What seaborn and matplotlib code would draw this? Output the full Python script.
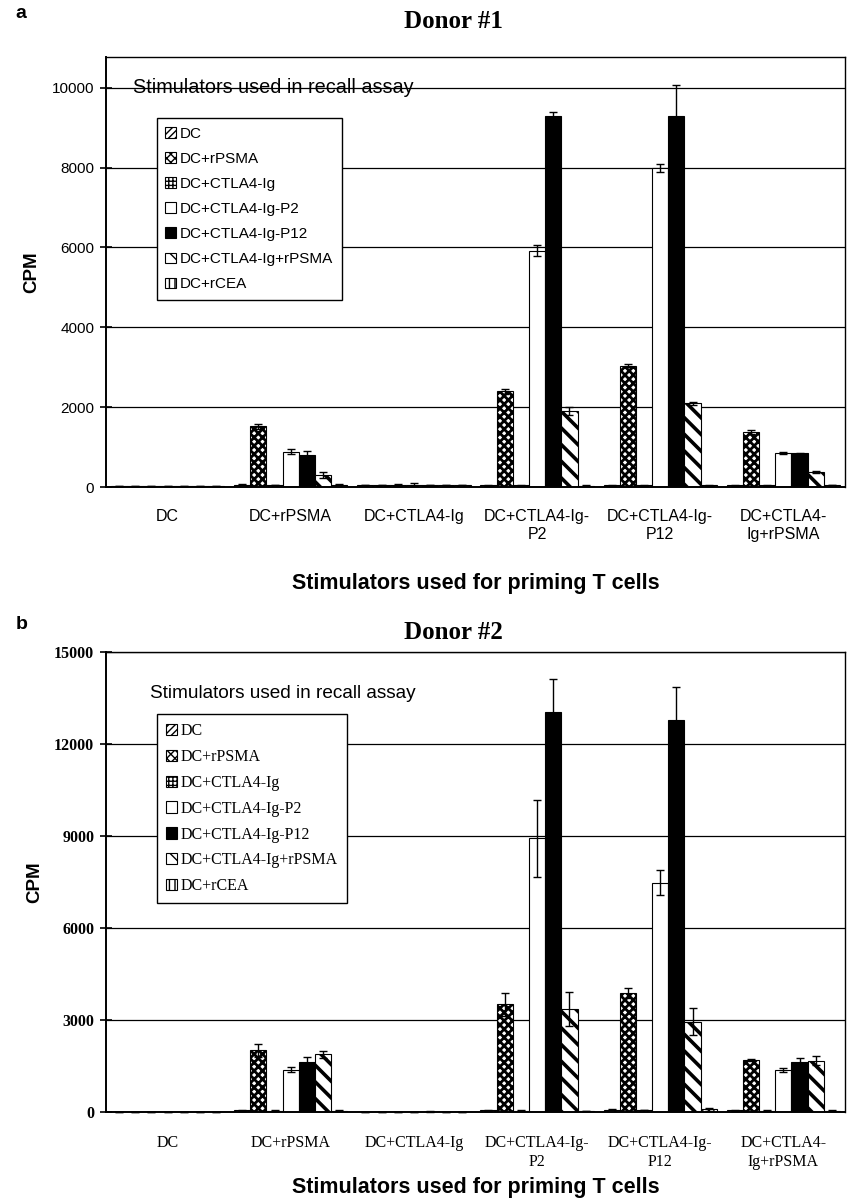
import numpy as np
import pandas as pd
import matplotlib
matplotlib.use("Agg")
import matplotlib.pyplot as plt
import matplotlib.patches as mpatches
import seaborn as sns

# ---------------- data ----------------
priming = ["DC", "DC+rPSMA", "DC+CTLA4-Ig", "DC+CTLA4-Ig-P2", "DC+CTLA4-Ig-P12", "DC+CTLA4-Ig+rPSMA"]
priming_labels = ["DC", "DC+rPSMA", "DC+CTLA4-Ig", "DC+CTLA4-Ig-\nP2", "DC+CTLA4-Ig-\nP12", "DC+CTLA4-\nIg+rPSMA"]
recall = ["DC", "DC+rPSMA", "DC+CTLA4-Ig", "DC+CTLA4-Ig-P2", "DC+CTLA4-Ig-P12", "DC+CTLA4-Ig+rPSMA", "DC+rCEA"]

# Donor 1 means (one list per recall stimulator, across priming groups)
d1_dc      = [25, 55, 50, 45, 45, 45]
d1_rpsma   = [25, 1520, 50, 2400, 3040, 1390]
d1_ctla    = [25, 50, 50, 45, 45, 45]
d1_p2      = [25, 880, 60, 5920, 7980, 850]
d1_p12     = [25, 800, 50, 9300, 9300, 840]
d1_ctlaps  = [25, 300, 50, 1900, 2100, 370]
d1_rcea    = [25, 55, 50, 30, 45, 50]
# Donor 1 errors
e1_dc      = [5, 10, 10, 10, 10, 10]
e1_rpsma   = [5, 60, 10, 60, 30, 50]
e1_ctla    = [5, 10, 20, 10, 10, 10]
e1_p2      = [5, 60, 40, 140, 100, 25]
e1_p12     = [5, 90, 10, 100, 780, 20]
e1_ctlaps  = [5, 70, 10, 100, 40, 20]
e1_rcea    = [5, 10, 10, 10, 10, 10]

# Donor 2 means
d2_dc      = [20, 70, 20, 70, 90, 70]
d2_rpsma   = [20, 2020, 20, 3520, 3900, 1720]
d2_ctla    = [20, 60, 20, 60, 80, 60]
d2_p2      = [20, 1400, 20, 8930, 7480, 1380]
d2_p12     = [20, 1640, 30, 13050, 12800, 1640]
d2_ctlaps  = [20, 1890, 20, 3380, 2950, 1690]
d2_rcea    = [20, 60, 20, 50, 100, 60]
# Donor 2 errors
e2_dc      = [5, 10, 5, 10, 20, 10]
e2_rpsma   = [5, 220, 5, 380, 160, 30]
e2_ctla    = [5, 10, 5, 10, 10, 10]
e2_p2      = [5, 85, 5, 1260, 410, 60]
e2_p12     = [5, 170, 30, 1060, 1070, 150]
e2_ctlaps  = [5, 100, 5, 560, 440, 150]
e2_rcea    = [5, 10, 5, 10, 40, 10]

d1_vals = [d1_dc, d1_rpsma, d1_ctla, d1_p2, d1_p12, d1_ctlaps, d1_rcea]
d1_errs = [e1_dc, e1_rpsma, e1_ctla, e1_p2, e1_p12, e1_ctlaps, e1_rcea]
d2_vals = [d2_dc, d2_rpsma, d2_ctla, d2_p2, d2_p12, d2_ctlaps, d2_rcea]
d2_errs = [e2_dc, e2_rpsma, e2_ctla, e2_p2, e2_p12, e2_ctlaps, e2_rcea]

# ---------------- styling ----------------
sns.set_theme(style="white")
plt.rcParams["font.family"] = ["Liberation Sans", "DejaVu Sans"]
plt.rcParams["hatch.color"] = "black"
for k in ["text.color", "axes.labelcolor", "xtick.color", "ytick.color", "axes.edgecolor"]:
    plt.rcParams[k] = "black"

faces   = ["white", "white", "white", "white", "black", "white", "white"]
hatches = ["/////", "xxxx", "++++", "", "", "\\\\", "|||"]
hatch_lw = [1.0, 2.0, 1.0, 1.0, 1.0, 2.6, 1.0]


def long_df(vals):
    rows = []
    for r, series in zip(recall, vals):
        for p, v in zip(priming, series):
            rows.append({"priming": p, "recall": r, "cpm": v})
    return pd.DataFrame(rows)


def draw_panel(ax, vals, errs, ymax, yticks, serif, xlabelpad):
    df = long_df(vals)
    sns.barplot(data=df, x="priming", y="cpm", hue="recall", order=priming,
                hue_order=recall, palette=faces, saturation=1, width=0.92,
                gap=0, errorbar=None, edgecolor="black", linewidth=0.8,
                legend=False, ax=ax, zorder=2)
    bar_conts = list(ax.containers)
    for i, cont in enumerate(bar_conts):
        for j, bar in enumerate(cont.patches):
            bar.set_facecolor(faces[i])
            bar.set_edgecolor("black")
            if hatches[i]:
                bar.set_hatch(hatches[i])
                if hasattr(bar, "set_hatch_linewidth"):
                    bar.set_hatch_linewidth(hatch_lw[i])
            xc = bar.get_x() + bar.get_width() / 2
            ax.errorbar(xc, bar.get_height(), yerr=errs[i][j], fmt="none",
                        ecolor="black", elinewidth=1.0, capsize=3, capthick=1.0,
                        zorder=3, clip_on=False)
    ax.set_xlim(-0.5, 5.5)
    ax.set_ylim(0, ymax)
    ax.set_yticks(yticks)
    ax.set_yticklabels([str(t) for t in yticks])
    ax.yaxis.grid(True, color="black", linewidth=0.9, zorder=0)
    ax.xaxis.grid(False)
    ax.set_axisbelow(True)
    for s in ax.spines.values():
        s.set_visible(True)
        s.set_color("black")
        s.set_linewidth(1.0)
    ax.spines["left"].set_linewidth(1.4)
    ax.spines["bottom"].set_linewidth(1.4)
    ax.set_xticks(range(len(priming)))
    ax.set_xticklabels(priming_labels, linespacing=1.25)
    ax.set_xticks(np.arange(-0.5, 6.0, 1.0), minor=True)
    ax.tick_params(axis="x", which="major", length=0, pad=16, labelsize=11.5)
    ax.tick_params(axis="x", which="minor", length=7, width=1.2, direction="out", color="black")
    ax.tick_params(axis="y", which="major", length=9, width=1.2, direction="inout",
                   color="black", left=True, pad=4)
    ax.set_xlabel("Stimulators used for priming T cells", fontsize=15.5,
                  fontweight="bold", labelpad=xlabelpad)
    ax.set_ylabel("CPM", fontsize=13.5, fontweight="bold", labelpad=8)
    if serif:
        for lab in ax.get_xticklabels():
            lab.set_fontfamily("Liberation Serif")
            lab.set_fontsize(11.5)
        for lab in ax.get_yticklabels():
            lab.set_fontfamily("Liberation Serif")
            lab.set_fontweight("bold")
            lab.set_fontsize(11.5)
    else:
        for lab in ax.get_yticklabels():
            lab.set_fontsize(11)


def legend_handles():
    hs = []
    for i in range(len(recall)):
        hs.append(mpatches.Patch(facecolor=faces[i], edgecolor="black",
                                 hatch=hatches[i] if hatches[i] else None,
                                 linewidth=0.8))
    return hs


fig = plt.figure(figsize=(8.47, 12.01), dpi=100)
ax1 = fig.add_axes([0.1251, 0.5945, 0.8725, 0.358])
ax2 = fig.add_axes([0.1251, 0.0737, 0.8725, 0.3834])

draw_panel(ax1, d1_vals, d1_errs, 10770, [0, 2000, 4000, 6000, 8000, 10000], serif=False, xlabelpad=22)
draw_panel(ax2, d2_vals, d2_errs, 15000, [0, 3000, 6000, 9000, 12000, 15000], serif=True, xlabelpad=5)

# legends
leg1 = ax1.legend(legend_handles(), recall, loc="upper left", bbox_to_anchor=(0.069, 0.858),
                  borderaxespad=0, frameon=True, fancybox=False, framealpha=1,
                  edgecolor="black", fontsize=11, handlelength=0.7, handleheight=0.7,
                  handletextpad=0.25, labelspacing=0.73, borderpad=0.55)
leg1.get_frame().set_linewidth(1.0)
leg1.set_zorder(5)

leg2 = ax2.legend(legend_handles(), recall, loc="upper left", bbox_to_anchor=(0.069, 0.865),
                  borderaxespad=0, frameon=True, fancybox=False, framealpha=1,
                  edgecolor="black", handlelength=0.7, handleheight=0.7,
                  handletextpad=0.25, labelspacing=0.62, borderpad=0.55,
                  prop={"family": "Liberation Serif", "size": 11.5})
leg2.get_frame().set_linewidth(1.0)
leg2.set_zorder(5)

# recall assay captions
ax1.text(0.0365, 10000, "Stimulators used in recall assay", transform=ax1.get_yaxis_transform(),
         ha="left", va="center", fontsize=14.3, zorder=6)
ax2.text(0.06, 0.911, "Stimulators used in recall assay", transform=ax2.transAxes,
         ha="left", va="center", fontsize=13.7, zorder=6)

# titles and panel letters
fig.text(0.535, 0.982, "Donor #1", ha="center", va="center", fontsize=18,
         fontweight="bold", family="Liberation Serif")
fig.text(0.535, 0.473, "Donor #2", ha="center", va="center", fontsize=18,
         fontweight="bold", family="Liberation Serif")
fig.text(0.018, 0.989, "a", ha="left", va="center", fontsize=14, fontweight="bold")
fig.text(0.018, 0.48, "b", ha="left", va="center", fontsize=14, fontweight="bold")

fig.savefig("out.png", dpi=100)
